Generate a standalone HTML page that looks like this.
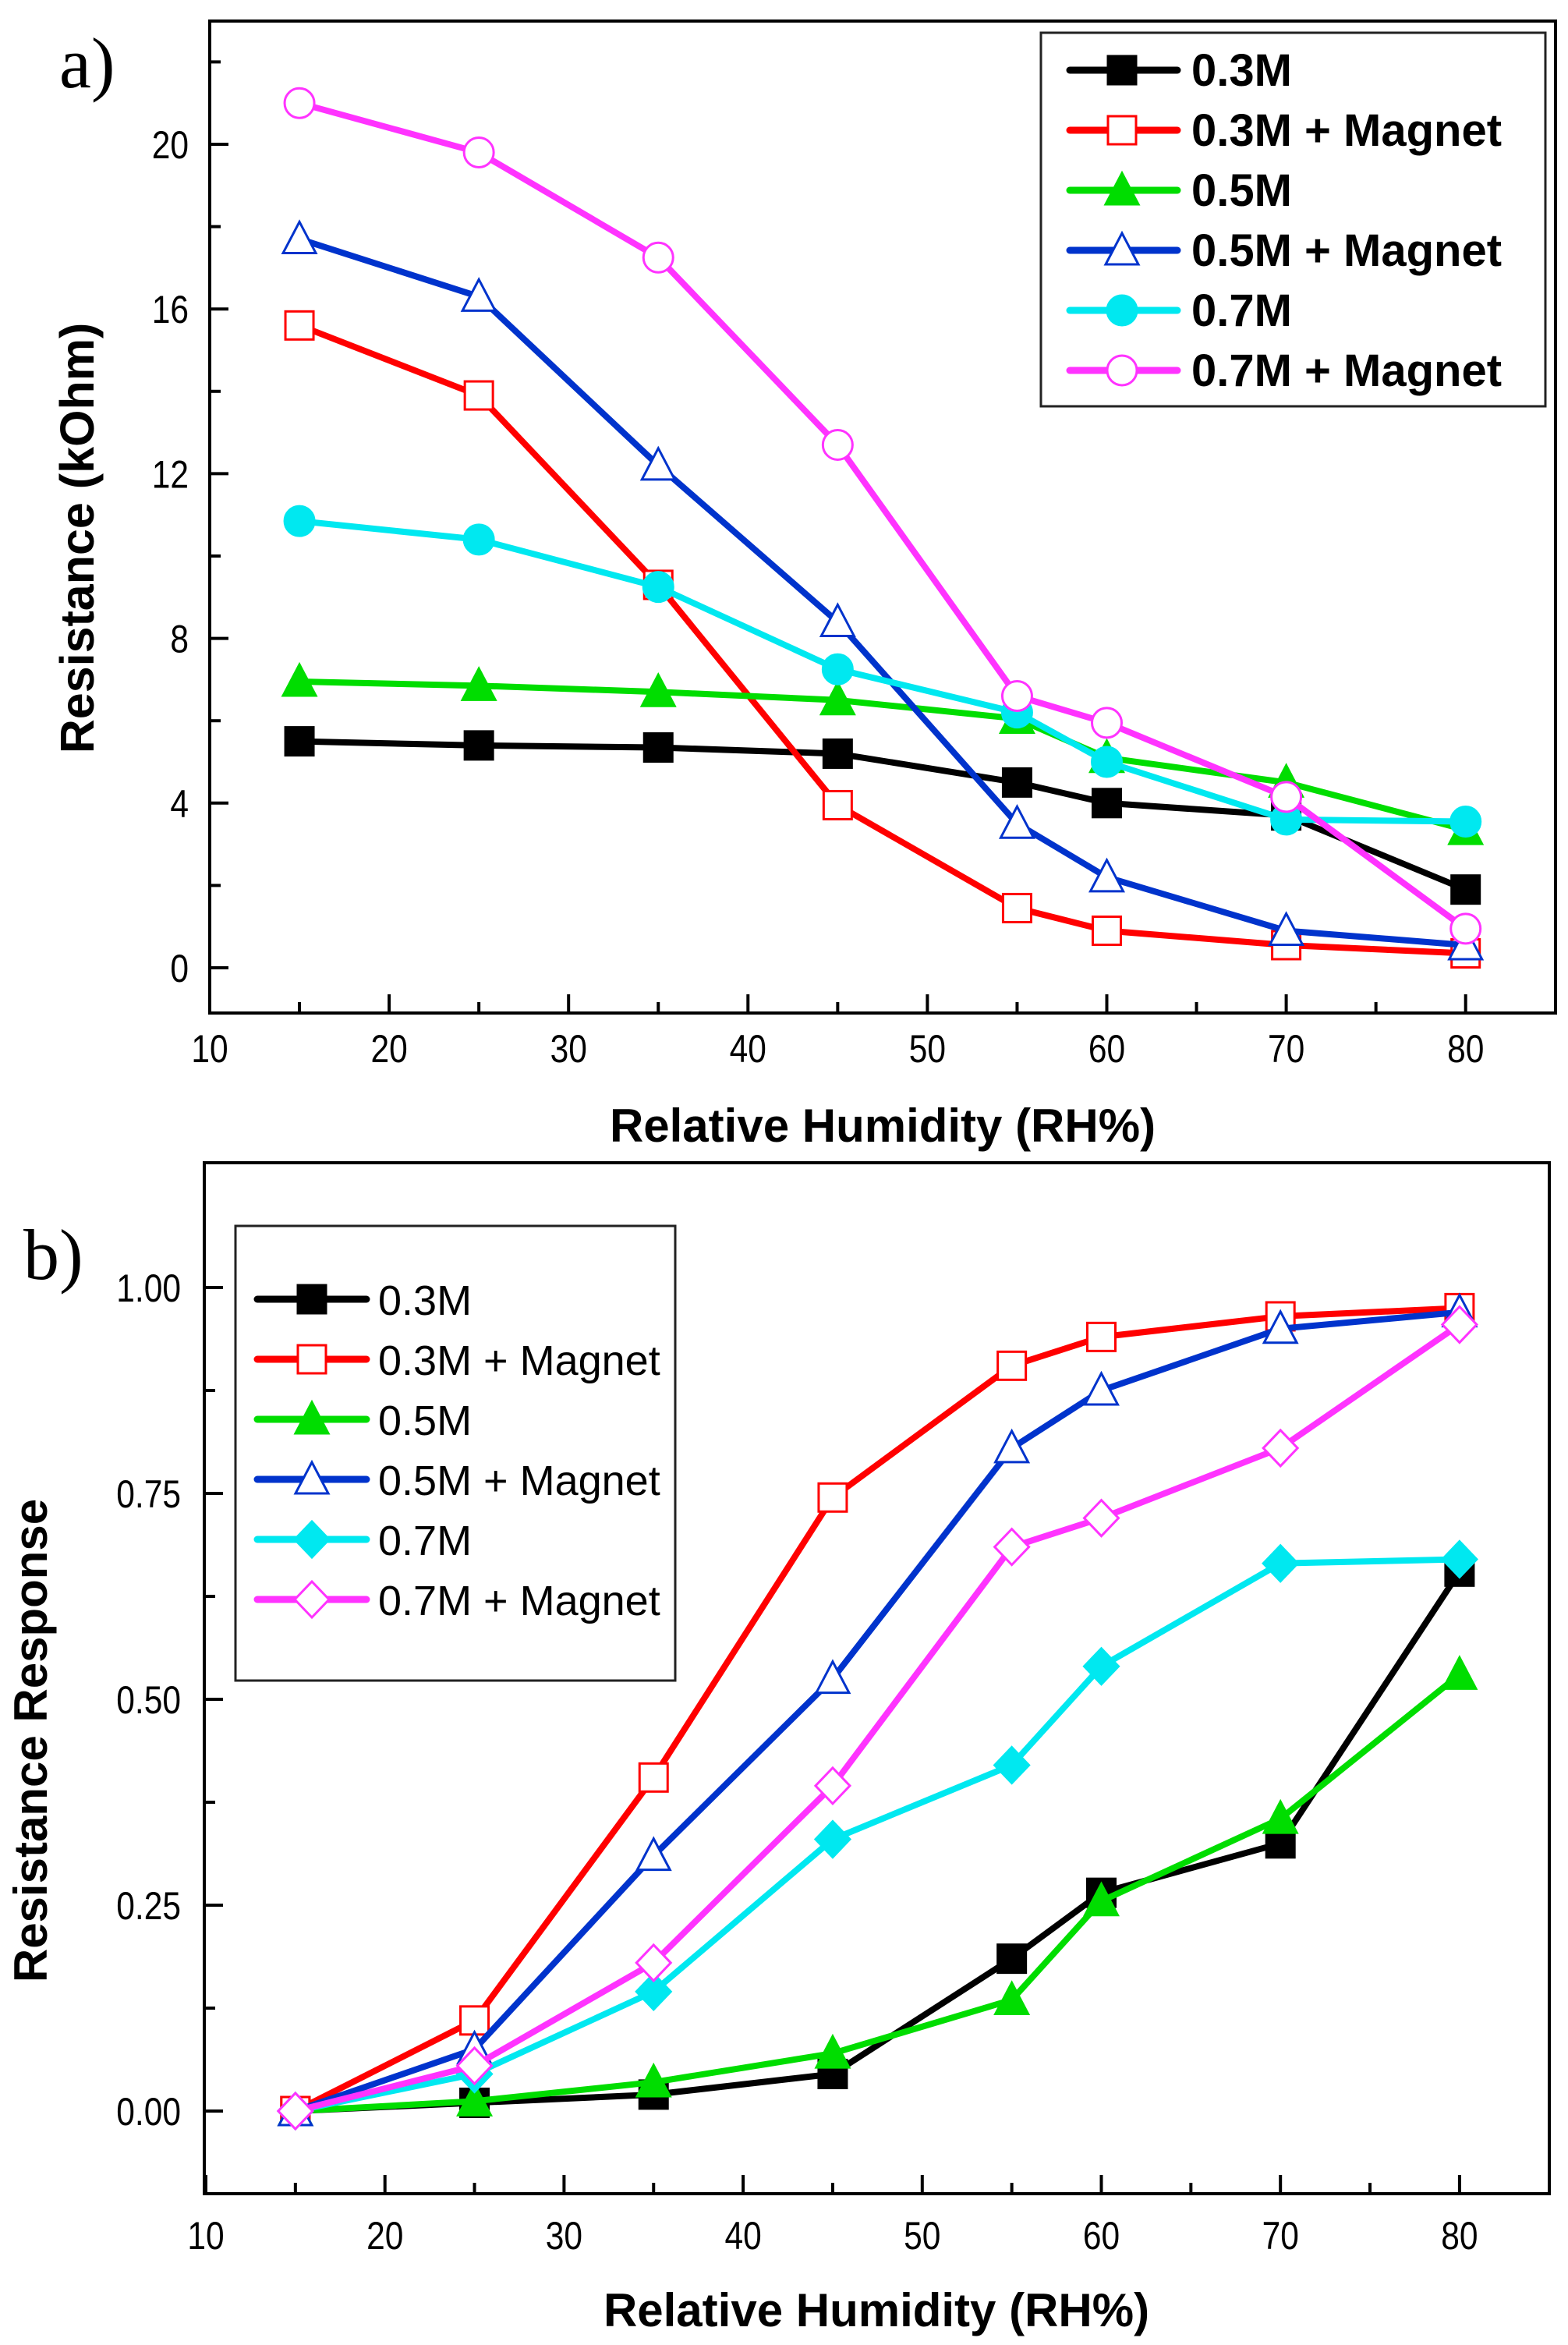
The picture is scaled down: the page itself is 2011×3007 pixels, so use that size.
<!DOCTYPE html>
<html><head><meta charset="utf-8"><style>
html,body{margin:0;padding:0;background:#fff;}
svg{display:block;}
</style></head><body>
<svg id="s" width="2011" height="3007" viewBox="0 0 2011 3007" xmlns="http://www.w3.org/2000/svg" font-family="Liberation Sans, Arial, sans-serif"></svg>
<script>
const S=document.getElementById('s');let h='';
const C={k:'#000',r:'#ff0000',g:'#00dd00',b:'#0033cc',c:'#00e8f0',m:'#ff33ff'};
function mk(t,x,y,col,open){const f=open?'#fff':col;let r=19;
 if(t=='sq')return `<rect x="${x-r+1}" y="${y-r+1}" width="${2*r-2}" height="${2*r-2}" fill="${f}" stroke="${col}" stroke-width="3"/>`;
 if(t=='tri')return `<polygon points="${x},${y-r-3} ${x-r-2},${y+r-1} ${x+r+2},${y+r-1}" fill="${f}" stroke="${col}" stroke-width="3"/>`;
 if(t=='ci')return `<circle cx="${x}" cy="${y}" r="${r}" fill="${f}" stroke="${col}" stroke-width="3"/>`;
 if(t=='di')return `<polygon points="${x},${y-r-4} ${x+r+3},${y} ${x},${y+r+4} ${x-r-3},${y}" fill="${f}" stroke="${col}" stroke-width="3"/>`;}
function nt(x,y,s,anchor,size,weight){return `<text transform="translate(${x},${y}) scale(0.85,1)" font-size="${size}" font-weight="${weight||'normal'}" text-anchor="${anchor}">${s}</text>`;}
const X=[15,25,35,45,55,60,70,80];
function panel(o){
 const {L,T,R,B,x0,xs,y0,ys}=o;
 const px=v=>x0+(v-10)*xs, py=v=>y0-v*ys;
 h+=`<rect x="${L}" y="${T}" width="${R-L}" height="${B-T}" fill="none" stroke="#000" stroke-width="4"/>`;
 for(let v=10;v<=80;v+=5){const x=px(v);const len=v%10==0?24:14;h+=`<line x1="${x}" y1="${B}" x2="${x}" y2="${B-len}" stroke="#000" stroke-width="4"/>`;
  if(v%10==0)h+=nt(x,o.xly,v,'middle',50);}
 o.yt.forEach(([v,lab])=>{const y=py(v);if(y>B-5||y<T+5)return;const len=lab!==null?24:14;h+=`<line x1="${L}" y1="${y}" x2="${L+len}" y2="${y}" stroke="#000" stroke-width="4"/>`;
  if(lab!==null)h+=nt(o.ylx,y+18,lab,'end',50);});
 o.series.forEach(s=>{h+=`<polyline points="${X.map((v,i)=>px(v)+','+py(s.d[i])).join(' ')}" fill="none" stroke="${C[s.c]}" stroke-width="8" stroke-linejoin="round"/>`;
  X.forEach((v,i)=>h+=mk(s.t,px(v),py(s.d[i]),C[s.c],s.o));});
 const lg=o.lg;h+=`<rect x="${lg.x}" y="${lg.y}" width="${lg.w}" height="${lg.h}" fill="#fff" stroke="#222" stroke-width="3"/>`;
 o.series.forEach((s,i)=>{const y=lg.r0+i*77;h+=`<line x1="${lg.lx1}" y1="${y}" x2="${lg.lx2}" y2="${y}" stroke="${C[s.c]}" stroke-width="9" stroke-linecap="round"/>`+mk(s.t,lg.mx,y,C[s.c],s.o)+`<text x="${lg.tx}" y="${y+20}" font-size="${lg.fs}" font-weight="${lg.fw}">${s.n}</text>`;});
}
const yta=[];for(let v=-0;v<=22;v+=2)yta.push([v,v%4==0?v:null]);
panel({L:269,T:27,R:1995,B:1299,x0:269,xs:23.01,y0:1241,ys:52.8,xly:1362,ylx:242,yt:yta,
 lg:{x:1335,y:42,w:647,h:479,r0:90,lx1:1372,lx2:1510,mx:1439,tx:1528,fw:'bold',fs:58},
 series:[
 {n:'0.3M',c:'k',t:'sq',o:0,d:[5.5,5.4,5.35,5.2,4.5,4.0,3.7,1.9]},
 {n:'0.3M + Magnet',c:'r',t:'sq',o:1,d:[15.6,13.9,9.3,3.95,1.45,0.9,0.55,0.35]},
 {n:'0.5M',c:'g',t:'tri',o:0,d:[6.95,6.85,6.7,6.5,6.05,5.1,4.5,3.35]},
 {n:'0.5M + Magnet',c:'b',t:'tri',o:1,d:[17.7,16.3,12.2,8.4,3.5,2.2,0.9,0.55]},
 {n:'0.7M',c:'c',t:'ci',o:0,d:[10.85,10.4,9.25,7.25,6.2,5.0,3.6,3.55]},
 {n:'0.7M + Magnet',c:'m',t:'ci',o:1,d:[21.0,19.8,17.25,12.7,6.6,5.95,4.15,0.95]}]});
const ytb=[];for(let i=0;i<=8;i++){const v=i*0.125;ytb.push([v,i%2==0?v.toFixed(2):null]);}
panel({L:262,T:1491,R:1987,B:2813,x0:264,xs:22.97,y0:2707,ys:1056,xly:2884,ylx:232,yt:ytb,
 lg:{x:302,y:1572,w:564,h:583,r0:1666,lx1:330,lx2:470,mx:400,tx:485,fw:'normal',fs:54},
 series:[
 {n:'0.3M',c:'k',t:'sq',o:0,d:[0,0.01,0.02,0.045,0.185,0.265,0.325,0.655]},
 {n:'0.3M + Magnet',c:'r',t:'sq',o:1,d:[0,0.11,0.405,0.745,0.905,0.94,0.965,0.975]},
 {n:'0.5M',c:'g',t:'tri',o:0,d:[0,0.012,0.035,0.07,0.135,0.255,0.355,0.53]},
 {n:'0.5M + Magnet',c:'b',t:'tri',o:1,d:[0,0.075,0.31,0.525,0.805,0.875,0.95,0.97]},
 {n:'0.7M',c:'c',t:'di',o:0,d:[0,0.045,0.145,0.33,0.42,0.54,0.665,0.67]},
 {n:'0.7M + Magnet',c:'m',t:'di',o:1,d:[0,0.055,0.18,0.395,0.685,0.72,0.805,0.955]}]});
h+=`<text x="1132" y="1464" font-size="60" font-weight="bold" text-anchor="middle">Relative Humidity (RH%)</text>`;
h+=`<text x="1124" y="2983" font-size="60" font-weight="bold" text-anchor="middle">Relative Humidity (RH%)</text>`;
h+=`<text transform="translate(120,690) rotate(-90)" font-size="61" font-weight="bold" text-anchor="middle">Resistance (kOhm)</text>`;
h+=`<text transform="translate(60,2232) rotate(-90)" font-size="60" font-weight="bold" text-anchor="middle">Resistance Response</text>`;
h+=`<text x="76" y="112" font-size="92" font-family="Liberation Serif, serif">a)</text>`;
h+=`<text x="30" y="1640" font-size="92" font-family="Liberation Serif, serif">b)</text>`;
S.innerHTML=h;
</script>
</body></html>
